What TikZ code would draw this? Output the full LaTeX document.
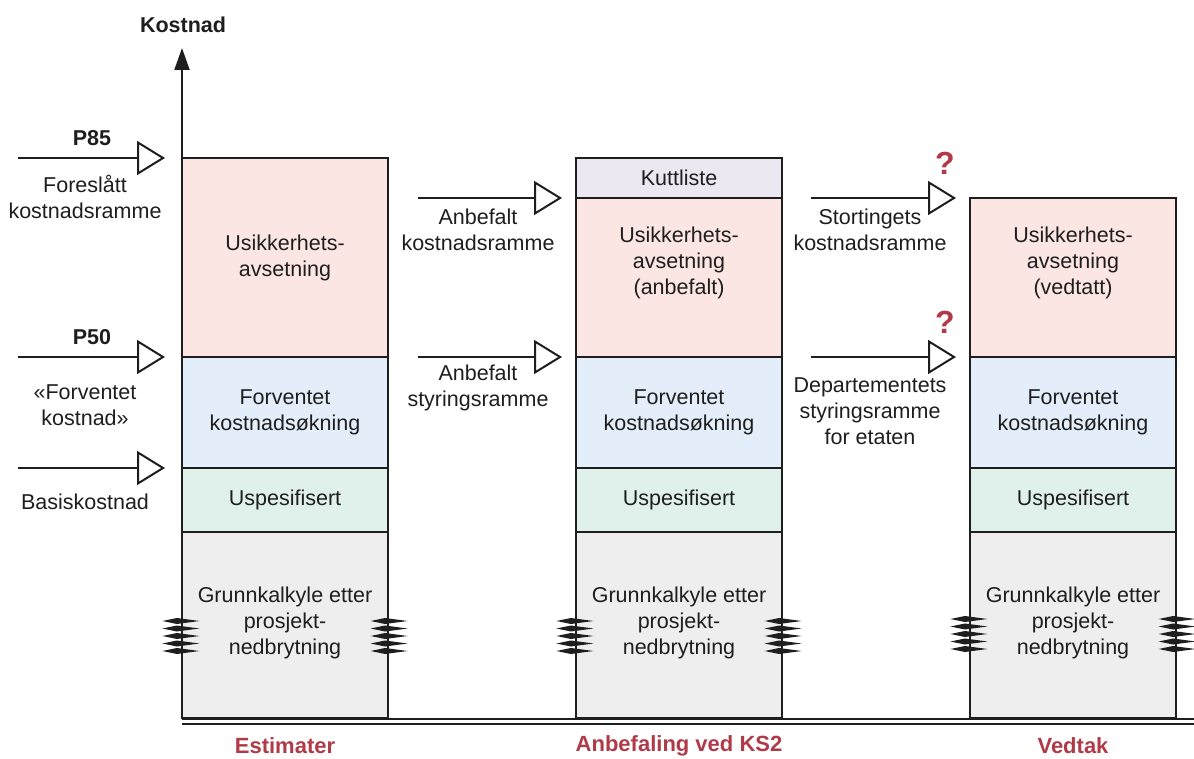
\documentclass[tikz,border=0pt]{standalone}
\usepackage{fontspec}
\setmainfont{Liberation Sans}
\usetikzlibrary{arrows.meta}
\definecolor{risk}{HTML}{FCE6E4}
\definecolor{expect}{HTML}{E4EEFA}
\definecolor{unspec}{HTML}{E0F1EC}
\definecolor{base}{HTML}{EEEEEE}
\definecolor{cut}{HTML}{ECE8F1}
\definecolor{ink}{HTML}{1E1E1E}
\definecolor{accent}{HTML}{B03A48}
\begin{document}
\begin{tikzpicture}[x=1pt,y=-1pt,
  every node/.style={font=\fontsize{21.5}{26}\selectfont, text=ink, align=center, inner sep=0pt},
  seg/.style={draw=ink, line width=2.2pt, minimum width=206pt, inner sep=0pt},
  bold/.style={font=\fontsize{21.5}{26}\selectfont\bfseries},
  colhead/.style={font=\fontsize{22}{26}\selectfont\bfseries, text=accent},
  qmark/.style={font=\fontsize{32}{34}\selectfont\bfseries, text=accent},
  levelarrow/.style={draw=ink, line width=2pt, -{Triangle[open, length=28pt, width=34pt, fill=white]}},
  axisarrow/.style={draw=ink, line width=2pt, -{Triangle[length=22pt, width=15pt]}},
  torn/.pic={
    \foreach \dy in {-15,-7.5,0,7.5,15}
      \fill[ink] (-18.5,\dy) -- (-4,\dy-3) -- (18.5,\dy) -- (-4,\dy+3) -- cycle;
  }]
\useasboundingbox (0,0) rectangle (1194,759);

% ---------- column 1: estimates ----------
\node[seg, fill=risk,   minimum height=199pt] (r1) at (285,257.5) {};
\node[seg, fill=expect, minimum height=111pt] (e1) at (285,412.5) {};
\node[seg, fill=unspec, minimum height=64pt]  (u1) at (285,500) {};
\node[seg, fill=base,   minimum height=186pt] (b1) at (285,625) {};
\node (r1t) at (285,258) {Usikkerhets-\\avsetning};
\node (e1t) at (285,412) {Forventet\\kostnadsøkning};
\node (u1t) at (285,500) {Uspesifisert};
\node (b1t) at (285,623) {Grunnkalkyle etter\\prosjekt-\\nedbrytning};

% ---------- column 2: recommendation ----------
\node[seg, fill=cut,    minimum height=40pt]  (k2) at (679,178) {};
\node[seg, fill=risk,   minimum height=159pt] (r2) at (679,277.5) {};
\node[seg, fill=expect, minimum height=111pt] (e2) at (679,412.5) {};
\node[seg, fill=unspec, minimum height=64pt]  (u2) at (679,500) {};
\node[seg, fill=base,   minimum height=186pt] (b2) at (679,625) {};
\node (k2t) at (679,178) {Kuttliste};
\node (r2t) at (679,263) {Usikkerhets-\\avsetning\\(anbefalt)};
\node (e2t) at (679,412) {Forventet\\kostnadsøkning};
\node (u2t) at (679,500) {Uspesifisert};
\node (b2t) at (679,623) {Grunnkalkyle etter\\prosjekt-\\nedbrytning};

% ---------- column 3: decision ----------
\node[seg, fill=risk,   minimum height=159pt] (r3) at (1073,277.5) {};
\node[seg, fill=expect, minimum height=111pt] (e3) at (1073,412.5) {};
\node[seg, fill=unspec, minimum height=64pt]  (u3) at (1073,500) {};
\node[seg, fill=base,   minimum height=186pt] (b3) at (1073,625) {};
\node (r3t) at (1073,263) {Usikkerhets-\\avsetning\\(vedtatt)};
\node (e3t) at (1073,412) {Forventet\\kostnadsøkning};
\node (u3t) at (1073,500) {Uspesifisert};
\node (b3t) at (1073,623) {Grunnkalkyle etter\\prosjekt-\\nedbrytning};

% ---------- break marks on the base estimate ----------
\pic at (b1.west |- 0,636) {torn};
\pic at (b1.east |- 0,636) {torn};
\pic at (b2.west |- 0,636) {torn};
\pic at (b2.east |- 0,636) {torn};
\pic at (b3.west |- 0,634) {torn};
\pic at (b3.east |- 0,634) {torn};

% ---------- cost axis and baseline ----------
\coordinate (axbot) at (182,719);
\coordinate (axtop) at (182,48);
\draw[axisarrow] (axbot) -- (axtop);
\node[bold] (axlbl) at (183,25) {Kostnad};
\coordinate (bl1) at (182,719);
\coordinate (br1) at (1194,719);
\coordinate (bl2) at (182,724);
\coordinate (br2) at (1194,724);
\draw[ink, line width=1.4pt] (bl1) -- (br1);
\draw[ink, line width=1.4pt] (bl2) -- (br2);

% ---------- level arrows, estimates ----------
\coordinate (p85s) at (18,158);  \coordinate (p85e) at (165,158);
\coordinate (p50s) at (18,357);  \coordinate (p50e) at (165,357);
\coordinate (bass) at (18,468);  \coordinate (base) at (165,468);
\draw[levelarrow] (p85s) -- (p85e);
\draw[levelarrow] (p50s) -- (p50e);
\draw[levelarrow] (bass) -- (base);
\node[bold] (p85) at (92,138) {P85};
\node (p85t) at (85,197) {Foreslått\\kostnadsramme};
\node[bold] (p50) at (92,337) {P50};
\node (p50t) at (85,405) {«Forventet\\kostnad»};
\node (bast) at (85,502) {Basiskostnad};

% ---------- level arrows, recommendation ----------
\coordinate (akrs) at (418,198); \coordinate (akre) at (562,198);
\coordinate (asrs) at (418,357); \coordinate (asre) at (562,357);
\draw[levelarrow] (akrs) -- (akre);
\draw[levelarrow] (asrs) -- (asre);
\node (akrt) at (478,230) {Anbefalt\\kostnadsramme};
\node (asrt) at (478,388) {Anbefalt\\styringsramme};

% ---------- level arrows, decision ----------
\coordinate (skrs) at (811,198); \coordinate (skre) at (956,198);
\coordinate (dsrs) at (811,357); \coordinate (dsre) at (956,357);
\draw[levelarrow] (skrs) -- (skre);
\draw[levelarrow] (dsrs) -- (dsre);
\node (skrt) at (870,230) {Stortingets\\kostnadsramme};
\node (dsrt) at (870,411) {Departementets\\styringsramme\\for etaten};
\node[qmark] (q1) at (945,163) {?};
\node[qmark] (q2) at (945,322) {?};

% ---------- column headings ----------
\node[colhead] (h1) at (285,746) {Estimater};
\node[colhead] (h2) at (679,746) {Anbefaling ved KS2};
\node[colhead] (h3) at (1073,746) {Vedtak};
\end{tikzpicture}
\end{document}
